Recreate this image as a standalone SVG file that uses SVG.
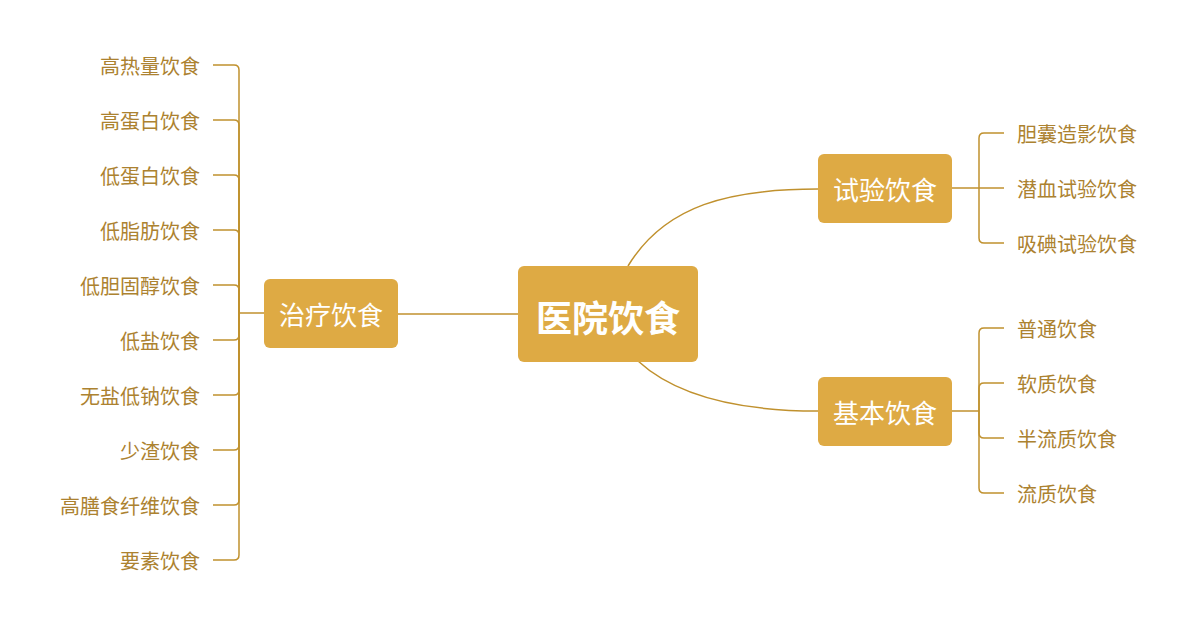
<svg xmlns="http://www.w3.org/2000/svg" width="1201" height="629" viewBox="0 0 1201 629">
<style>
.node rect{fill:#DEAA44;}
.nt{fill:#FFFFFF;font-family:"Noto Sans CJK SC","Noto Sans",sans-serif;font-size:26px;text-anchor:middle;}
.ct{fill:#FFFFFF;font-family:"Noto Sans CJK SC","Noto Sans",sans-serif;font-size:36px;font-weight:bold;text-anchor:middle;}
.lt{fill:#AC8230;font-family:"Noto Sans CJK SC","Noto Sans",sans-serif;font-size:20px;}
.l{text-anchor:end;}
.conn path{fill:none;stroke:#C0912E;stroke-width:1.5;}
</style>
<rect width="1201" height="629" fill="#FFFFFF"/>
<g id="connectors" class="conn">
<path d="M397,314 H518"/>
<path d="M628,266 C665,205 730,189 818,189"/>
<path d="M638,361 C675,395 735,411 818,411"/>
<path d="M264,313 H239"/>
<path d="M239,313 V70 Q239,65 234,65 H213"/>
<path d="M239,313 V125 Q239,120 234,120 H213"/>
<path d="M239,313 V180 Q239,175 234,175 H213"/>
<path d="M239,313 V235 Q239,230 234,230 H213"/>
<path d="M239,313 V290 Q239,285 234,285 H213"/>
<path d="M239,313 V335 Q239,340 234,340 H213"/>
<path d="M239,313 V390 Q239,395 234,395 H213"/>
<path d="M239,313 V445 Q239,450 234,450 H213"/>
<path d="M239,313 V500 Q239,505 234,505 H213"/>
<path d="M239,313 V555 Q239,560 234,560 H213"/>
<path d="M951,188 H979"/>
<path d="M979,188 V138 Q979,133 984,133 H1004"/>
<path d="M979,188 H1004"/>
<path d="M979,188 V238 Q979,243 984,243 H1004"/>
<path d="M951,411 H979"/>
<path d="M979,411 V333 Q979,328 984,328 H1004"/>
<path d="M979,411 V388 Q979,383 984,383 H1004"/>
<path d="M979,411 V433 Q979,438 984,438 H1004"/>
<path d="M979,411 V488 Q979,493 984,493 H1004"/>
</g>
<g id="root" class="node"><rect x="518" y="266" width="180" height="96" rx="6"/><text class="ct" x="608" y="332">医院饮食</text></g>
<g id="zhiliao" class="node"><rect x="264" y="279" width="134" height="69" rx="6"/><text class="nt" x="331" y="325">治疗饮食</text></g>
<g id="shiyan" class="node"><rect x="818" y="154" width="134" height="69" rx="6"/><text class="nt" x="885" y="200">试验饮食</text></g>
<g id="jiben" class="node"><rect x="818" y="377" width="134" height="69" rx="6"/><text class="nt" x="885" y="423">基本饮食</text></g>
<g id="l1"><text class="lt l" x="200" y="74">高热量饮食</text></g>
<g id="l2"><text class="lt l" x="200" y="129">高蛋白饮食</text></g>
<g id="l3"><text class="lt l" x="200" y="184">低蛋白饮食</text></g>
<g id="l4"><text class="lt l" x="200" y="239">低脂肪饮食</text></g>
<g id="l5"><text class="lt l" x="200" y="294">低胆固醇饮食</text></g>
<g id="l6"><text class="lt l" x="200" y="349">低盐饮食</text></g>
<g id="l7"><text class="lt l" x="200" y="404">无盐低钠饮食</text></g>
<g id="l8"><text class="lt l" x="200" y="459">少渣饮食</text></g>
<g id="l9"><text class="lt l" x="200" y="514">高膳食纤维饮食</text></g>
<g id="l10"><text class="lt l" x="200" y="569">要素饮食</text></g>
<g id="r1"><text class="lt" x="1017" y="142">胆囊造影饮食</text></g>
<g id="r2"><text class="lt" x="1017" y="197">潜血试验饮食</text></g>
<g id="r3"><text class="lt" x="1017" y="252">吸碘试验饮食</text></g>
<g id="r4"><text class="lt" x="1017" y="337">普通饮食</text></g>
<g id="r5"><text class="lt" x="1017" y="392">软质饮食</text></g>
<g id="r6"><text class="lt" x="1017" y="447">半流质饮食</text></g>
<g id="r7"><text class="lt" x="1017" y="502">流质饮食</text></g>
</svg>
